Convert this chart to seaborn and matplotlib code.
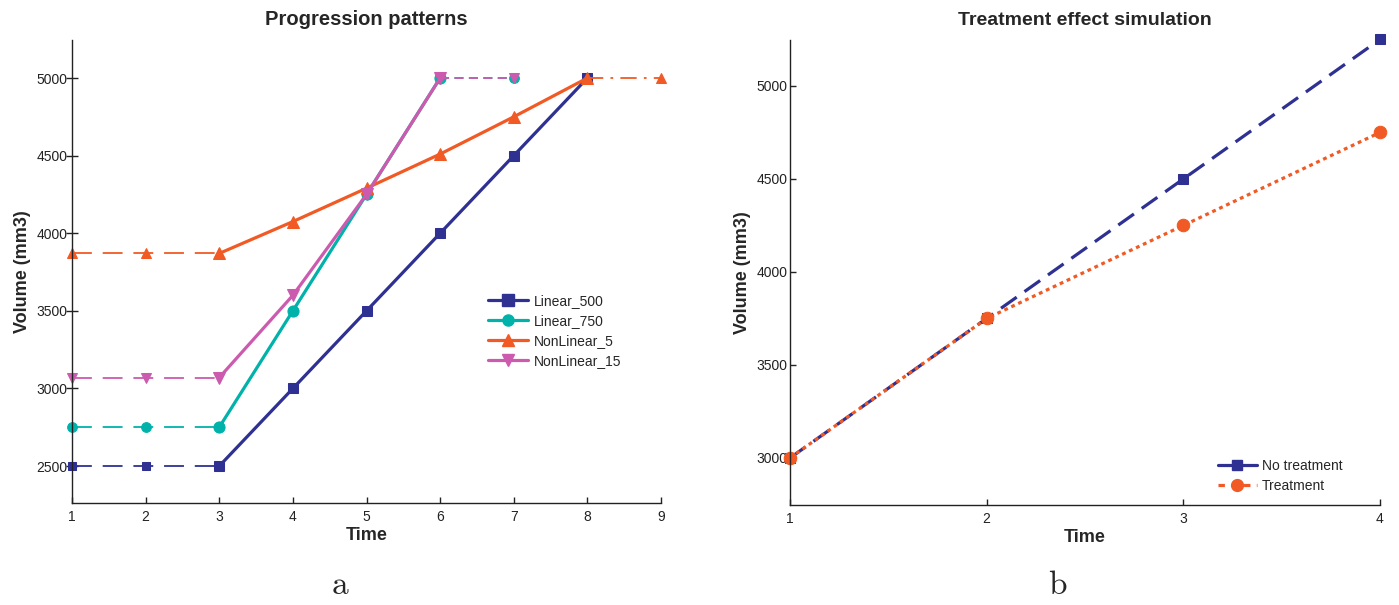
import numpy as np
import pandas as pd
import matplotlib
matplotlib.use("Agg")
import matplotlib.pyplot as plt
from matplotlib.lines import Line2D
import seaborn as sns

# ---------------- data ----------------
time_a = [1, 2, 3, 4, 5, 6, 7, 8, 9]
linear_500 = [2500, 2500, 2500, 3000, 3500, 4000, 4500, 5000]
linear_750 = [2750, 2750, 2750, 3500, 4250, 5000, 5000]
nonlinear_5 = [3870, 3870, 3870, 4075, 4290, 4510, 4750, 5000, 5000]
nonlinear_15 = [3070, 3070, 3070, 3600, 4250, 5000, 5000]
series_names = ["Linear_500", "Linear_750", "NonLinear_5", "NonLinear_15"]

time_b = [1, 2, 3, 4]
no_treatment = [3000, 3750, 4500, 5250]
treatment = [3000, 3750, 4250, 4750]
names_b = ["No treatment", "Treatment"]

yticks_a = [2500, 3000, 3500, 4000, 4500, 5000]
yticks_b = [3000, 3500, 4000, 4500, 5000]

# ---------------- style ----------------
sns.set_style("white")
plt.rcParams["font.family"] = ["Liberation Sans", "DejaVu Sans"]
plt.rcParams["mathtext.fontset"] = "cm"

c_blue = "#2E3192"
c_teal = "#00B2A9"
c_orange = "#F15A24"
c_pink = "#CC5BAF"

fig = plt.figure(figsize=(13.99, 6.05), dpi=100)
ax1 = fig.add_axes([72/1399, 1-503/605, (661-72)/1399, (503-40)/605])
ax2 = fig.add_axes([790/1399, 1-505/605, (1380-790)/1399, (505-40)/605])

series = [
    (linear_500, c_blue, "s", 7, 6),
    (linear_750, c_teal, "o", 8, 7),
    (nonlinear_5, c_orange, "^", 8.5, 7),
    (nonlinear_15, c_pink, "v", 8.5, 7),
]

for (vals, col, mk, ms_big, ms_small), name in zip(series, series_names):
    t = np.array(time_a[:len(vals)])
    v = np.array(vals)
    # flat start: values equal to first value
    i0 = 0
    while i0 + 1 < len(v) and v[i0 + 1] == v[0]:
        i0 += 1
    # flat tail: values equal to last value
    i1 = len(v) - 1
    while i1 - 1 >= 0 and v[i1 - 1] == v[-1]:
        i1 -= 1
    df_start = pd.DataFrame({"t": t[:i0 + 1], "v": v[:i0 + 1]})
    df_mid = pd.DataFrame({"t": t[i0:i1 + 1], "v": v[i0:i1 + 1]})
    df_end = pd.DataFrame({"t": t[i1:], "v": v[i1:]})
    sns.lineplot(data=df_start, x="t", y="v", ax=ax1, color=col, lw=1.3,
                 linestyle=(0, (11, 6)), marker=mk, markersize=ms_small,
                 markeredgecolor=col, sort=False, clip_on=False)
    sns.lineplot(data=df_mid, x="t", y="v", ax=ax1, color=col, lw=2.3,
                 marker=mk, markersize=ms_big, markeredgecolor=col,
                 sort=False, clip_on=False)
    if len(df_end) > 1:
        tail_ls = (0, (9, 4, 1.5, 4)) if col == c_orange else (0, (5, 3))
        sns.lineplot(data=df_end, x="t", y="v", ax=ax1, color=col, lw=1.3,
                     linestyle=tail_ls, marker=mk, markersize=ms_small,
                     markeredgecolor=col, sort=False, clip_on=False)

handles_a = [Line2D([0], [0], color=col, lw=2.3, marker=mk, markersize=8,
                    markeredgecolor=col)
             for (vals, col, mk, a, b) in series]
ax1.legend(handles_a, series_names, loc="upper left",
           bbox_to_anchor=(0.685, 0.4786), frameon=False, fontsize=10,
           handlelength=2.9, handletextpad=0.4, labelspacing=0.44)

ax1.set_xlim(1, 9)
ax1.set_ylim(2262, 5245)
ax1.set_xticks(time_a)
ax1.set_yticks(yticks_a)
ax1.set_title("Progression patterns", fontsize=14.5, fontweight="bold",
              pad=11)
ax1.set_xlabel("Time", fontsize=13, fontweight="bold", labelpad=2)
ax1.set_ylabel("Volume (mm3)", fontsize=13, fontweight="bold", labelpad=4)

# ---- right panel ----
df_b = pd.DataFrame({"t": time_b, "nt": no_treatment, "tr": treatment})
sns.lineplot(data=df_b, x="t", y="nt", ax=ax2, color=c_blue, lw=2.3,
             linestyle=(0, (6, 3)), marker="s", markersize=7,
             markeredgecolor=c_blue, clip_on=False)
sns.lineplot(data=df_b, x="t", y="tr", ax=ax2, color=c_orange, lw=2.3,
             linestyle=(0, (1.2, 1.2)), marker="o", markersize=9,
             markeredgecolor=c_orange, clip_on=False)
handles_b = [
    Line2D([0], [0], color=c_blue, lw=2.3, marker="s", markersize=7,
           markeredgecolor=c_blue),
    Line2D([0], [0], color=c_orange, lw=2.3, linestyle=(0, (2, 2)),
           marker="o", markersize=8.5, markeredgecolor=c_orange),
]
ax2.legend(handles_b, names_b, loc="lower right",
           bbox_to_anchor=(0.958, -0.0015),
           frameon=False, fontsize=10, handlelength=2.8, handletextpad=0.4,
           labelspacing=0.48)
ax2.set_xlim(1, 4)
ax2.set_ylim(2747, 5247)
ax2.set_xticks(time_b)
ax2.set_yticks(yticks_b)
ax2.set_title("Treatment effect simulation", fontsize=14, fontweight="bold",
              pad=11)
ax2.set_xlabel("Time", fontsize=13, fontweight="bold", labelpad=2)
ax2.set_ylabel("Volume (mm3)", fontsize=13, fontweight="bold", labelpad=4)

for ax in (ax1, ax2):
    sns.despine(ax=ax)
    for s in ("left", "bottom"):
        ax.spines[s].set_color("#222222")
        ax.spines[s].set_linewidth(1.0)
    ax.tick_params(axis="x", direction="in", length=4, width=1,
                   labelsize=10, colors="#222222", pad=5, bottom=True)
ax1.tick_params(axis="y", direction="inout", length=8, width=1,
                labelsize=10, colors="#222222", pad=-1, left=True)
ax2.tick_params(axis="y", direction="in", length=4, width=1,
                labelsize=10, colors="#222222", pad=2, left=True)

fig.text(340/1399, 1-585/605, r"$\mathrm{a}$", fontsize=24, ha="center",
         va="center")
fig.text(1058/1399, 1-585/605, r"$\mathrm{b}$", fontsize=24, ha="center",
         va="center")

fig.savefig("out.png", dpi=100)
